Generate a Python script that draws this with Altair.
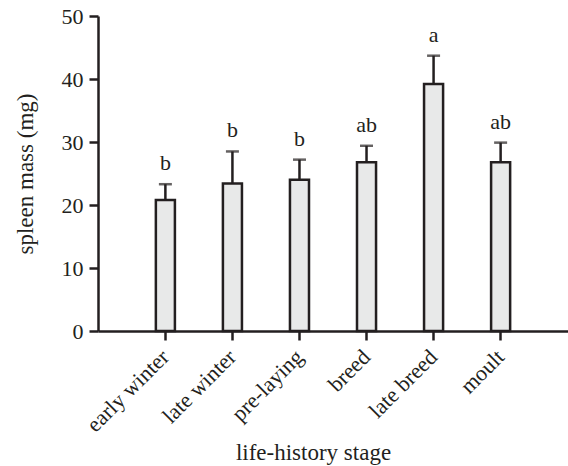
import altair as alt
import pandas as pd

stages = ["early winter", "late winter", "pre-laying", "breed", "late breed", "moult"]
means = [20.8, 23.4, 24.0, 26.8, 39.2, 26.8]
upper = [23.3, 28.5, 27.2, 29.4, 43.7, 29.9]
letters = ["b", "b", "b", "ab", "a", "ab"]

df = pd.DataFrame({"stage": stages, "mean": means, "upper": upper, "letter": letters})

INK = "#231f20"
FONT = "Liberation Serif"

xenc = alt.X(
    "stage:N",
    sort=stages,
    scale=alt.Scale(paddingInner=0.716, paddingOuter=0.863),
    axis=alt.Axis(
        title="life-history stage",
        labelAngle=-45,
        labelAlign="right",
        labelBaseline="middle",
        labelFontSize=22,
        labelPadding=13,
        tickSize=9,
        tickWidth=2.5,
        tickColor=INK,
        titleFontSize=23,
        titleFontWeight="normal",
        titleX=215,
        titleY=128,
        titleBaseline="alphabetic",
    ),
)

yscale = alt.Scale(domain=[0, 50])

bars = alt.Chart(df).mark_bar(
    fill="#e8e9e9", stroke=INK, strokeWidth=2.5
).encode(
    x=xenc,
    y=alt.Y(
        "mean:Q",
        scale=yscale,
        axis=alt.Axis(
            title="spleen mass (mg)",
            values=[0, 10, 20, 30, 40, 50],
            labelFontSize=22,
            labelPadding=6,
            tickSize=9,
            tickWidth=2.5,
            tickColor=INK,
            titleFontSize=23,
            titleFontWeight="normal",
            titlePadding=24,
        ),
    ),
)

err = alt.Chart(df).mark_rule(color=INK, strokeWidth=2.5).encode(
    x=alt.X("stage:N", sort=stages),
    y=alt.Y("mean:Q", scale=yscale),
    y2="upper:Q",
)

caps = alt.Chart(df).mark_tick(color=INK, thickness=2.5, size=13).encode(
    x=alt.X("stage:N", sort=stages),
    y=alt.Y("upper:Q", scale=yscale),
)

text = alt.Chart(df).mark_text(
    font=FONT, fontSize=22, color=INK, baseline="alphabetic", dy=-14
).encode(
    x=alt.X("stage:N", sort=stages),
    y=alt.Y("upper:Q", scale=yscale),
    text="letter:N",
)

chart = (
    alt.layer(bars, err, caps, text)
    .properties(
        width=470,
        height=315,
        autosize=alt.AutoSizeParams(type="none"),
        padding={"left": 98, "top": 16, "right": 0, "bottom": 135},
        background="white",
    )
    .configure_view(stroke=None)
    .configure_axis(
        grid=False,
        domainColor=INK,
        domainWidth=2.5,
        labelFont=FONT,
        titleFont=FONT,
        labelColor=INK,
        titleColor=INK,
    )
)

chart.save("out.html", embed_options={"renderer": "svg", "actions": False})
